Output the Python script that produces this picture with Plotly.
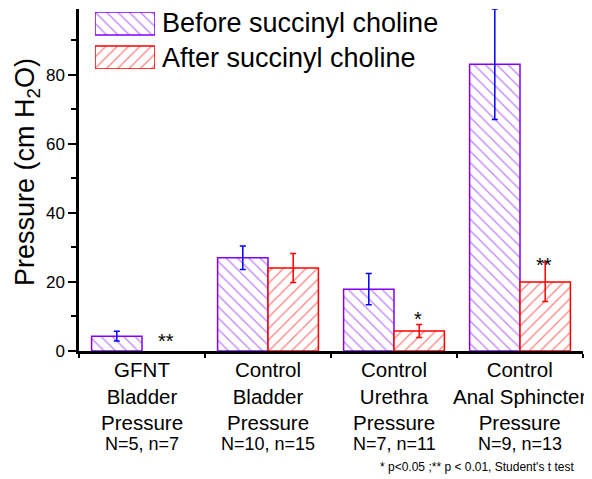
import plotly.graph_objects as go

categories = ["GFNT", "CtrlBladder", "CtrlUrethra", "CtrlAnal"]
tick_labels = ["GFNT<br>Bladder<br>Pressure", "Control<br>Bladder<br>Pressure",
               "Control<br>Urethra<br>Pressure", "Control<br>Anal Sphincter<br>Pressure"]
n_labels = ["N=5, n=7", "N=10, n=15", "N=7, n=11", "N=9, n=13"]
before_vals = [4.3, 27.0, 17.9, 83.0]
before_err = [1.4, 3.4, 4.5, 16.0]
after_vals = [None, 24.0, 5.8, 20.0]
after_err = [None, 4.2, 1.9, 5.7]
sig_marks = ["**", "", "*", "**"]
sig_y = [2.9, None, 9.2, 24.9]
series_names = ["Before succinyl choline", "After succinyl choline"]
y_title = "Pressure (cm H<sub>2</sub>O)"
footnote = "* p<0.05 ;** p < 0.01, Student's t test"

PURPLE = "#8000ff"
RED = "#ff0000"
FONT = "Liberation Sans, Arial, sans-serif"

# page has an 8px body margin; plot area on screen: x 79..583, y 9..351
OFF = 8
PW, PH = 504, 342


def px_x(p):
    return (p - 79) / PW


def px_y(p):
    return (351 - p) / PH


def pat(shape, col):
    return dict(shape=shape, fgcolor=col, bgcolor="white", size=8, solidity=0.16)


fig = go.Figure()
fig.add_trace(go.Bar(
    x=categories, y=before_vals, name=series_names[0], showlegend=False,
    marker=dict(color="white", line=dict(color=PURPLE, width=1.5), pattern=pat("\\", PURPLE)),
    error_y=dict(type="data", array=before_err, color="#0000ff", thickness=1.5, width=3),
))
fig.add_trace(go.Bar(
    x=categories, y=after_vals, name=series_names[1], showlegend=False,
    marker=dict(color="white", line=dict(color=RED, width=1.5), pattern=pat("/", RED)),
    error_y=dict(type="data", array=after_err, color=RED, thickness=1.5, width=3),
))

# legend swatches drawn on a small helper axis
fig.add_trace(go.Bar(
    x=[1], y=[1], base=[0], orientation="h", width=0.676, xaxis="x2", yaxis="y2",
    showlegend=False, hoverinfo="skip",
    marker=dict(color="white", line=dict(color=PURPLE, width=1.5), pattern=pat("\\", PURPLE)),
))
fig.add_trace(go.Bar(
    x=[1], y=[0], base=[0], orientation="h", width=0.676, xaxis="x2", yaxis="y2",
    showlegend=False, hoverinfo="skip",
    marker=dict(color="white", line=dict(color=RED, width=1.5), pattern=pat("/", RED)),
))

annotations = []
legend_y_px = [23.5, 57.5]
for i, name in enumerate(series_names):
    annotations.append(dict(x=px_x(160), y=px_y(legend_y_px[i]), xref="paper", yref="paper",
                            text=name, showarrow=False, xanchor="left", yanchor="middle",
                            font=dict(size=27, color="black", family=FONT)))
for i, cat in enumerate(categories):
    annotations.append(dict(x=cat, y=px_y(396), xref="x", yref="paper", text=tick_labels[i],
                            showarrow=False, xanchor="center", yanchor="middle",
                            font=dict(size=20.5, color="black", family=FONT)))
    annotations.append(dict(x=cat, y=px_y(444), xref="x", yref="paper", text=n_labels[i],
                            showarrow=False, xanchor="center", yanchor="middle",
                            font=dict(size=18, color="black", family=FONT)))
for i, m in enumerate(sig_marks):
    if m:
        annotations.append(dict(x=i + 0.19, y=sig_y[i], xref="x", yref="y", text=m,
                                showarrow=False, xanchor="center", yanchor="middle",
                                font=dict(size=20, color="black", family=FONT)))
annotations.append(dict(x=px_x(477), y=px_y(467), xref="paper", yref="paper",
                        text=footnote, showarrow=False, xanchor="center", yanchor="middle",
                        font=dict(size=12, color="black", family=FONT)))
annotations.append(dict(x=px_x(27), y=px_y(172), xref="paper", yref="paper",
                        text=y_title, textangle=-90, showarrow=False,
                        xanchor="center", yanchor="middle",
                        font=dict(size=27, color="black", family=FONT)))

fig.update_layout(
    width=592, height=479,
    margin=dict(l=79 - OFF, r=592 - 583 + OFF, t=9 - OFF, b=479 - 351 + OFF, autoexpand=False),
    paper_bgcolor="white", plot_bgcolor="white",
    barmode="group", bargap=0.2, bargroupgap=0,
    font=dict(family=FONT, color="black"),
    xaxis=dict(type="category", categoryorder="array", categoryarray=categories,
               showticklabels=False, automargin=False,
               tickson="boundaries", ticks="outside", ticklen=4, tickwidth=2, tickcolor="black",
               showline=True, linecolor="black", linewidth=2.5, showgrid=False,
               range=[-0.5, 3.5]),
    yaxis=dict(range=[0, 99], dtick=20, tick0=0, ticks="outside", ticklen=8, tickwidth=2,
               tickcolor="black", showline=True, linecolor="black", linewidth=2.5,
               showgrid=False, zeroline=False, automargin=False,
               minor=dict(dtick=10, ticks="outside", ticklen=5, tickwidth=2, tickcolor="black"),
               tickfont=dict(size=17, family=FONT, color="black")),
    xaxis2=dict(domain=[px_x(95), px_x(155)], range=[0, 1], visible=False,
                anchor="y2", fixedrange=True),
    yaxis2=dict(domain=[px_y(69), px_y(12)], range=[-0.338, 1.338], visible=False,
                anchor="x2", fixedrange=True),
    annotations=annotations,
)

fig.write_html("out.html")
